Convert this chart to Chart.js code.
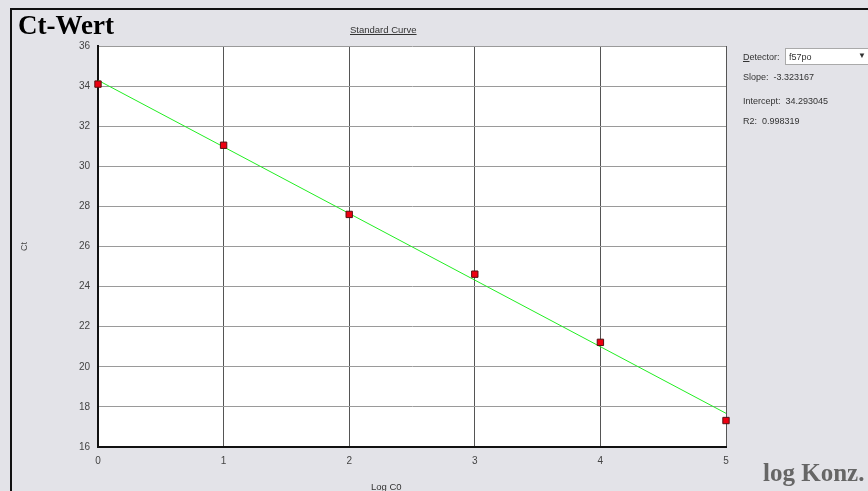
<!DOCTYPE html>
<html>
<head>
<meta charset="utf-8">
<script src="https://cdn.jsdelivr.net/npm/chart.js@4"></script>
<style>
  html,body{margin:0;padding:0;}
  body{width:868px;height:491px;overflow:hidden;background:#e3e3e8;position:relative;font-family:"Liberation Sans",Arial,sans-serif;}
  #frame{position:absolute;left:10px;top:8px;width:870px;height:490px;border-top:2px solid #111;border-left:2px solid #111;}
  #wrap{position:absolute;left:0;top:0;width:868px;height:491px;}
  .t{position:absolute;white-space:nowrap;color:#333;font-size:9px;}
  #big{left:18px;top:10px;font-family:"Liberation Serif","Times New Roman",serif;font-weight:bold;font-size:27px;color:#000;}
  #konz{left:763px;top:459px;font-family:"Liberation Serif","Times New Roman",serif;font-weight:bold;font-size:25px;color:#666;}
  #std{left:350px;top:24px;text-decoration:underline;font-size:9.5px;}
  #logc{left:371px;top:481px;font-size:9.5px;}
  #box{position:absolute;left:785px;top:48px;width:90px;height:15px;background:#fff;border:1px solid #aaa;}
</style>
</head>
<body>
<div id="wrap"><canvas id="c" width="868" height="491"></canvas></div>
<div id="frame"></div>
<div class="t" id="big">Ct-Wert</div>
<div class="t" id="std">Standard Curve</div>
<div class="t" id="logc">Log C0</div>
<div class="t" id="konz">log Konz.</div>
<div id="box"></div>
<div class="t" style="left:743px;top:52px;"><u>D</u>etector:</div>
<div class="t" style="left:789px;top:52px;">f57po</div>
<div class="t" style="left:858px;top:51px;font-size:8px;">▼</div>
<div class="t" style="left:743px;top:72px;">Slope:&nbsp; -3.323167</div>
<div class="t" style="left:743px;top:96px;">Intercept:&nbsp; 34.293045</div>
<div class="t" style="left:743px;top:116px;">R2:&nbsp; 0.998319</div>
<script>
// Data
const logC0 = [0, 1, 2, 3, 4, 5];
const ctValues = [34.1, 31.05, 27.6, 24.62, 21.22, 17.32];
const fitX = [0, 5];
const fitY = [34.29, 17.68];
const yTicks = [16, 18, 20, 22, 24, 26, 28, 30, 32, 34, 36];
const xTicks = [0, 1, 2, 3, 4, 5];

const whiteArea = {
  id: 'whiteArea',
  beforeDraw(chart) {
    const {ctx, chartArea: a} = chart;
    ctx.save();
    ctx.fillStyle = '#ffffff';
    ctx.fillRect(a.left, a.top, a.right - a.left, a.bottom - a.top);
    ctx.restore();
  }
};

new Chart(document.getElementById('c'), {
  type: 'scatter',
  data: {
    datasets: [
      {
        type: 'line',
        data: fitX.map((x, i) => ({x, y: fitY[i]})),
        borderColor: '#22ee22',
        borderWidth: 1,
        pointRadius: 0,
        fill: false,
        clip: false,
        order: 2
      },
      {
        data: logC0.map((x, i) => ({x, y: ctValues[i]})),
        pointStyle: 'rect',
        pointRadius: 4.5,
        backgroundColor: '#ee0011',
        borderColor: '#551111',
        borderWidth: 1,
        clip: false,
        order: 1
      }
    ]
  },
  options: {
    responsive: false,
    animation: false,
    layout: {padding: {left: 0, top: 46, right: 142, bottom: 0}},
    plugins: {legend: {display: false}, tooltip: {enabled: false}},
    scales: {
      x: {
        type: 'linear', min: 0, max: 5,
        afterBuildTicks(s) { s.ticks = xTicks.map(v => ({value: v})); },
        afterFit(s) { s.height = 44; },
        grid: {color: '#555555', lineWidth: 1, drawTicks: false},
        border: {display: true, color: '#111111', width: 2},
        ticks: {padding: 8, color: '#444', font: {family: 'Liberation Sans', size: 10}, maxRotation: 0}
      },
      y: {
        type: 'linear', min: 16, max: 36,
        afterBuildTicks(s) { s.ticks = yTicks.map(v => ({value: v})); },
        afterFit(s) { s.width = 98; },
        grid: {color: '#9a9a9a', lineWidth: 1, drawTicks: false},
        border: {display: true, color: '#111111', width: 2},
        ticks: {padding: 8, color: '#444', font: {family: 'Liberation Sans', size: 10}},
        title: {display: true, text: 'Ct', color: '#444', font: {family: 'Liberation Sans', size: 9}, padding: {top: 19, bottom: 0}}
      }
    }
  },
  plugins: [whiteArea]
});
</script>
</body>
</html>
